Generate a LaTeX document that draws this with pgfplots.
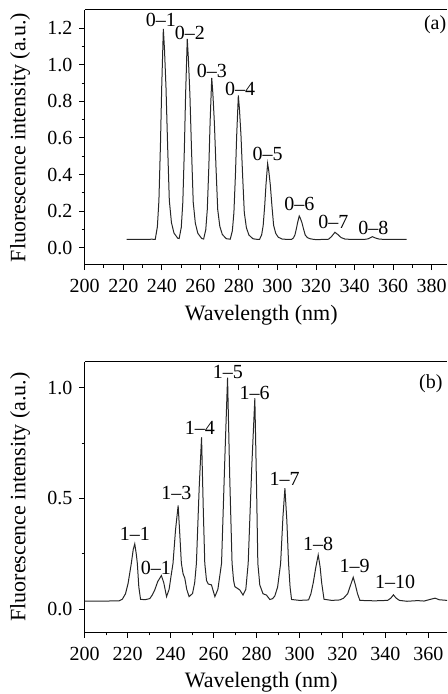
\documentclass[border=0pt]{standalone}
\usepackage{fontspec}
\setmainfont{Liberation Serif}
\usepackage{pgfplots}
\pgfplotsset{compat=1.18}

\pgfplotsset{
  spec/.style={
    scale only axis, width=181.2pt,
    axis lines=left, axis line style={-, line width=0.5pt},
    tick align=outside, major tick length=2.6pt, minor tick length=1.5pt,
    every tick/.style={line width=0.5pt, black},
    /pgf/number format/assume math mode=true,
    tick label style={font=\fontsize{10}{11}\selectfont},
    xticklabel style={yshift=-1.2pt},
    label style={font=\fontsize{11}{13}\selectfont},
    xlabel={Wavelength (nm)},
    ylabel={Fluorescence intensity (a.u.)},
    ylabel style={at={(axis description cs:-0.178,0.5)}, anchor=center},
    xlabel style={at={(axis description cs:0.487,0)}, anchor=center, yshift=-25pt},
    yticklabel style={/pgf/number format/.cd, fixed, fixed zerofill, precision=1},
    minor x tick num=1,
    clip=false,
  },
}
\tikzset{pk/.style={font=\fontsize{10}{11}\selectfont, inner sep=0pt}}

\begin{document}
\begin{tikzpicture}
\useasboundingbox (-42.35pt,-214.5pt) rectangle (181.15pt,132.5pt);

% (a)
\begin{axis}[spec, height=127.5pt,
  xmin=200, xmax=388, ymin=-0.095, ymax=1.3,
  xtick={200,220,...,380}, ytick={0,0.2,...,1.2}, minor y tick num=1]
\addplot[black!85, line width=0.5pt] coordinates {
  (221.8,0.045) (230,0.045) (235,0.046)
  (236.6,0.045) (237.7,0.114) (238.5,0.258) (239.3,0.563) (239.94,0.874) (240.8,1.197)
  (241.4,1.082) (242.18,0.874) (243.0,0.563) (243.9,0.258) (245.0,0.137) (246.3,0.080) (248.3,0.051)
  (249.0,0.050) (250.1,0.111) (250.9,0.248) (251.7,0.539) (252.34,0.835) (253.2,1.142)
  (253.8,1.032) (254.58,0.835) (255.4,0.539) (256.3,0.248) (257.4,0.133) (258.7,0.078) (260.7,0.050)
  (261.7,0.047) (262.8,0.098) (263.6,0.209) (264.4,0.443) (265.04,0.681) (265.9,0.929)
  (266.5,0.841) (267.28,0.681) (268.1,0.443) (269.0,0.209) (270.1,0.116) (271.4,0.072) (273.4,0.049)
  (275.5,0.046) (276.6,0.092) (277.4,0.191) (278.2,0.400) (278.84,0.612) (279.7,0.833)
  (280.3,0.754) (281.08,0.612) (281.9,0.400) (282.8,0.191) (283.9,0.108) (285.2,0.069) (287.2,0.049) (288.7,0.046)
  (290.7,0.045) (291.8,0.070) (292.6,0.122) (293.4,0.232) (294.04,0.344) (294.9,0.460)
  (295.5,0.419) (296.28,0.344) (297.1,0.232) (298.0,0.122) (299.1,0.078) (300.4,0.057) (302.4,0.047) (305,0.045)
  (307.3,0.045) (308.3,0.053) (309.05,0.069) (309.8,0.103) (310.44,0.137) (311.3,0.173)
  (311.9,0.160) (312.68,0.137) (313.5,0.103) (314.4,0.069) (315.5,0.055) (316.8,0.049) (318.8,0.045)
  (320,0.044) (325,0.045) (326.5,0.046) (328,0.060) (329.8,0.084) (331.5,0.070) (333,0.055) (335,0.047) (338,0.045)
  (345,0.045) (347,0.048) (349.2,0.060) (351,0.052) (353,0.046) (360,0.045) (367,0.045)
};
\draw[line width=0.5pt] (rel axis cs:0,1) -- (rel axis cs:1,1);
\node[pk] at (axis cs:239.5,1.246) {0--1};
\node[pk] at (axis cs:254.6,1.175) {0--2};
\node[pk] at (axis cs:266,0.969) {0--3};
\node[pk] at (axis cs:280.6,0.87) {0--4};
\node[pk] at (axis cs:294.9,0.511) {0--5};
\node[pk] at (axis cs:311.3,0.237) {0--6};
\node[pk] at (axis cs:329,0.139) {0--7};
\node[pk] at (axis cs:349.7,0.106) {0--8};
\node[pk] at (rel axis cs:0.967,0.944) {(a)};
\end{axis}

% (b)
\begin{axis}[spec, at={(0,-183.65pt)}, anchor=south west, height=135.3pt,
  xmin=200, xmax=368.7, ymin=-0.104, ymax=1.117,
  xtick={200,220,...,360}, ytick={0,0.5,1.0}, minor y tick num=1]
\addplot[black!85, line width=0.5pt] coordinates {
  (200,0.037) (210,0.037) (216,0.038) (217.5,0.045) (219,0.07) (220.2,0.117) (221.7,0.207) (222.6,0.27) (223.3,0.295)
  (224,0.25) (224.5,0.207) (225.2,0.1) (226,0.045) (228,0.043)
  (230.3,0.048) (231.5,0.065) (232.6,0.087) (234,0.125) (235.7,0.152) (236.8,0.12) (238.1,0.057)
  (239.3,0.09) (240.2,0.15) (241.1,0.207) (242.3,0.36) (243.5,0.468) (244.2,0.35) (245,0.207) (245.8,0.16) (246.6,0.14) (247.5,0.09) (248.6,0.057)
  (250.2,0.071) (251.2,0.12) (252,0.207) (253.3,0.55) (254.4,0.776) (255.2,0.45) (255.9,0.207) (256.7,0.13) (257.5,0.114) (259,0.11) (260.6,0.057)
  (262,0.09) (263.7,0.207) (265.3,0.7) (266.5,1.045) (267.5,0.6) (268.6,0.207) (269.3,0.13) (269.9,0.102) (272.2,0.087) (273.7,0.064)
  (275,0.09) (276.1,0.207) (277.8,0.65) (279.2,0.952) (280,0.55) (280.6,0.207) (281.5,0.11) (283,0.07) (284.6,0.064) (286.2,0.044)
  (287.5,0.048) (288.5,0.06) (289.8,0.1) (291.2,0.207) (292.3,0.42) (293.2,0.546) (294.1,0.4) (294.9,0.207) (295.6,0.1) (296.3,0.044) (300,0.04) (304.2,0.042)
  (305.3,0.07) (306.4,0.12) (307.6,0.19) (308.7,0.245) (309.6,0.19) (310.3,0.12) (311.4,0.045) (315,0.04) (318.8,0.042)
  (320.5,0.05) (322.4,0.07) (323.8,0.11) (325,0.144) (326,0.11) (327,0.07) (328.1,0.04) (335,0.038) (341,0.04)
  (342.5,0.05) (343.7,0.065) (345,0.05) (346.5,0.04) (350,0.036) (355,0.039) (358,0.037) (361,0.045) (363.1,0.05) (365,0.043) (368.7,0.04)
};
\draw[line width=0.5pt] (rel axis cs:0,1) -- (rel axis cs:1,1);
\node[pk] at (axis cs:223.3,0.34) {1--1};
\node[pk] at (axis cs:233.1,0.185) {0--1};
\node[pk] at (axis cs:242.7,0.523) {1--3};
\node[pk] at (axis cs:253.6,0.817) {1--4};
\node[pk] at (axis cs:266.6,1.072) {1--5};
\node[pk] at (axis cs:279.1,0.977) {1--6};
\node[pk] at (axis cs:293.1,0.587) {1--7};
\node[pk] at (axis cs:308.7,0.293) {1--8};
\node[pk] at (axis cs:325.7,0.195) {1--9};
\node[pk] at (axis cs:344.5,0.125) {1--10};
\node[pk] at (rel axis cs:0.955,0.92) {(b)};
\end{axis}
\end{tikzpicture}
\end{document}
